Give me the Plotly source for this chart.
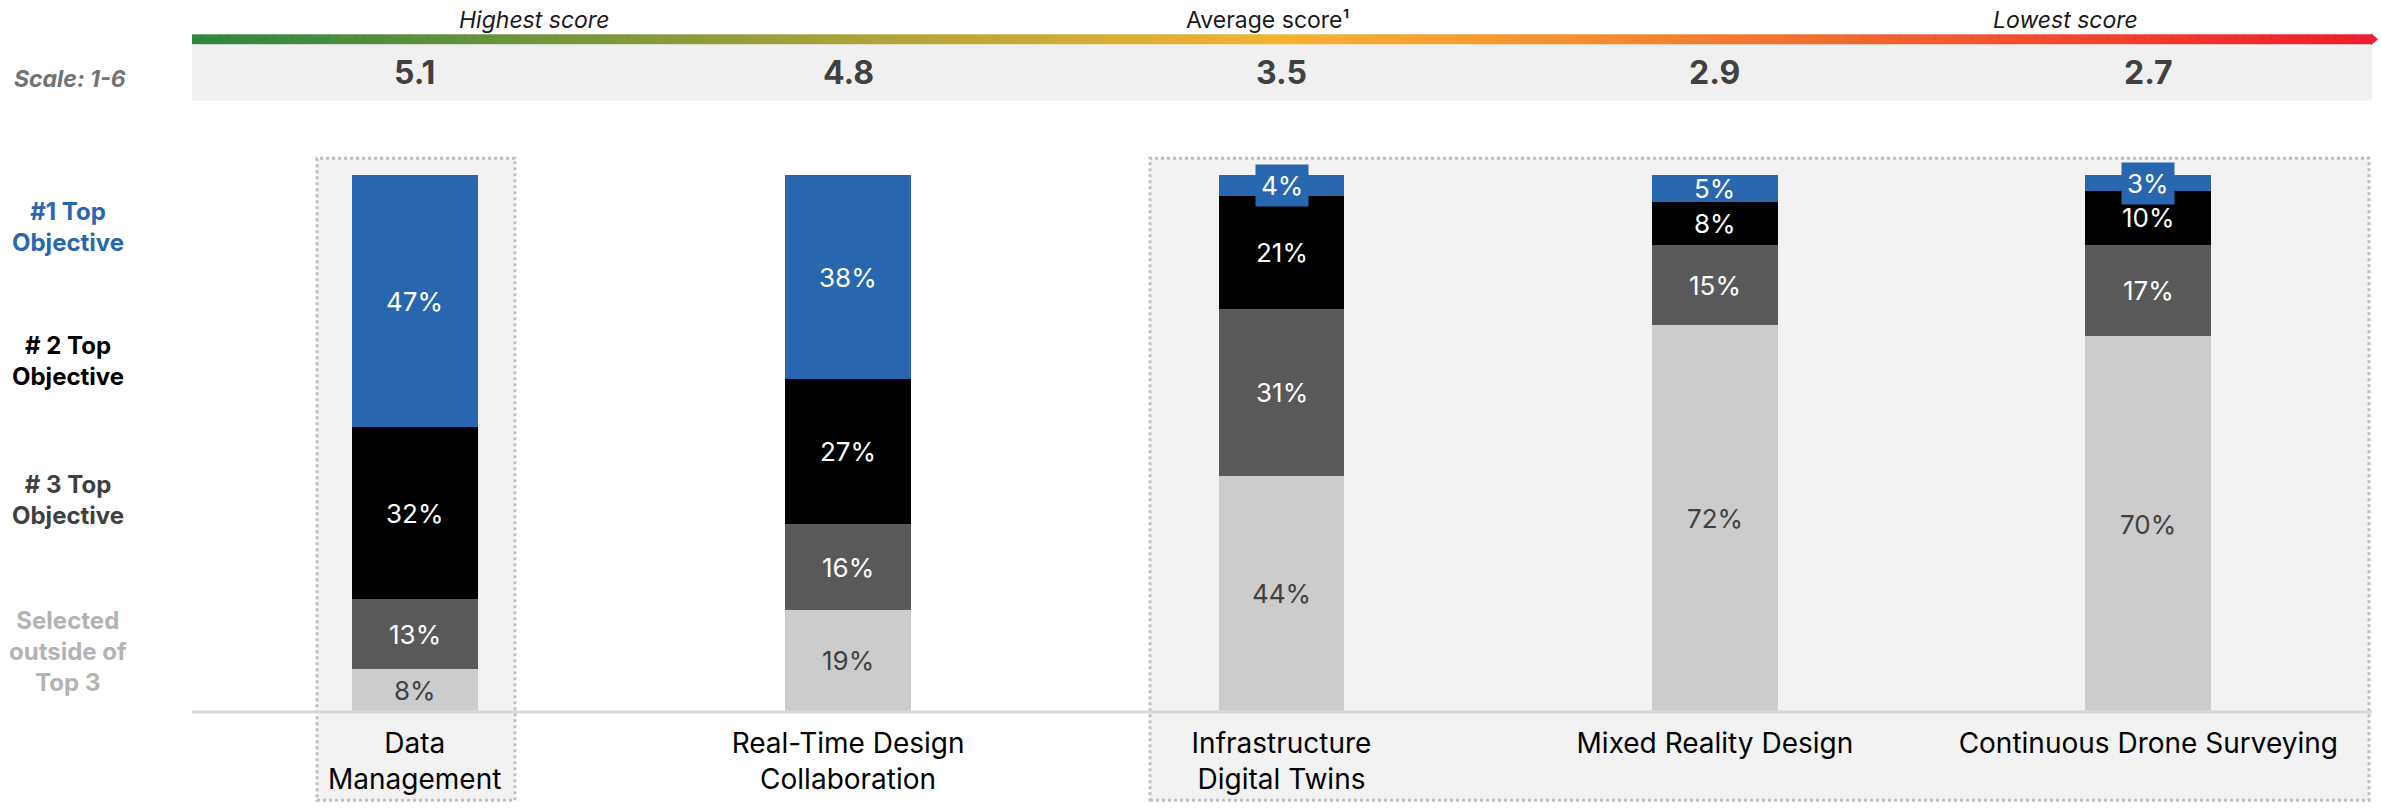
import plotly.graph_objects as go

# ---------------- data ----------------
categories = ["Data<br>Management", "Real-Time Design<br>Collaboration",
              "Infrastructure<br>Digital Twins", "Mixed Reality Design",
              "Continuous Drone Surveying"]
scores = ["5.1", "4.8", "3.5", "2.9", "2.7"]
top1 = [47, 38, 4, 5, 3]
top2 = [32, 27, 21, 8, 10]
top3 = [13, 16, 31, 15, 17]
outside = [8, 19, 44, 72, 70]
series_names = ["Selected outside of Top 3", "# 3 Top Objective", "# 2 Top Objective", "#1 Top Objective"]
row_labels = ["#1 Top<br>Objective", "# 2 Top<br>Objective", "# 3 Top<br>Objective",
              "Selected<br>outside of<br>Top 3"]
scale_label = "Scale: 1-6"
scale_titles = ["Highest score", "Average score¹", "Lowest score"]

# ---------------- style ----------------
W_FIG, H_FIG = 2381, 808
L, R, T, B = 198, 16, 175, 91
PW, PH = W_FIG - L - R, H_FIG - T - B
BLUE, BLACK, DGREY, LGREY = "#2966b0", "#000000", "#595959", "#cccccc"
colors = [LGREY, DGREY, BLACK, BLUE]
text_colors = ["#404040", "#ffffff", "#ffffff", "#ffffff"]
FONT = "Inter, Roboto, sans-serif"


def px(x):
    return (x - L) / PW


def py(y):
    return (T + PH - y) / PH


fig = go.Figure()
stack = [outside, top3, top2, top1]
for name, vals, col in zip(series_names, stack, colors):
    fig.add_trace(go.Bar(x=categories, y=vals, name=name, marker_color=col,
                         marker_line_width=0, width=0.29, hoverinfo="skip"))

annotations = []
# percentage labels
base = [0] * len(categories)
for vals, tc, col in zip(stack, text_colors, colors):
    for i, v in enumerate(vals):
        small = v < 5
        annotations.append(dict(
            x=categories[i], y=base[i] + v / 2, xref="x", yref="y",
            xanchor="center", yanchor="middle",
            text=f"{v}%", showarrow=False,
            font=dict(family=FONT, size=26, color=tc),
            bgcolor=col if small else None, borderpad=5 if small else 0,
        ))
        base[i] += v

# scores
for c, s in zip(categories, scores):
    annotations.append(dict(x=c, y=py(72), xref="x", yref="paper", text=f"<b>{s}</b>",
                            xanchor="center", yanchor="middle",
                            showarrow=False, font=dict(family=FONT, size=32, color="#404040")))

# scale titles
title_x = [534, 1268, 2065]
title_style = ["<i>{}</i>", "{}", "<i>{}</i>"]
for t, xx, st in zip(scale_titles, title_x, title_style):
    annotations.append(dict(x=px(xx), y=py(19), xref="paper", yref="paper", text=st.format(t),
                            xanchor="center", yanchor="middle",
                            showarrow=False, font=dict(family=FONT, size=23, color="#1a1a1a")))

annotations.append(dict(x=px(70), y=py(78), xref="paper", yref="paper",
                        xanchor="center", yanchor="middle",
                        text=f"<b><i>{scale_label}</i></b>", showarrow=False,
                        font=dict(family=FONT, size=23, color="#737373")))

# row labels
row_y = [227, 363, 503, 656]
row_cols = [BLUE, "#000000", "#404040", "#b3b3b3"]
for t, yy, cc in zip(row_labels, row_y, row_cols):
    annotations.append(dict(x=px(68), y=py(yy), xref="paper", yref="paper", text=f"<b>{t}</b>",
                            xanchor="center", yanchor="middle",
                            showarrow=False, align="center",
                            font=dict(family=FONT, size=24, color=cc)))

shapes = []
# dotted highlight boxes
for x0, x1 in [(317, 515), (1150, 2369)]:
    shapes.append(dict(type="rect", xref="paper", yref="paper", x0=px(x0), x1=px(x1),
                       y0=py(806), y1=py(158), fillcolor="#f2f2f2",
                       line=dict(color="#bfbfbf", width=3, dash="dot"), layer="below"))
# grey score band
shapes.append(dict(type="rect", xref="paper", yref="paper", x0=px(192), x1=px(2372),
                   y0=py(100), y1=py(43), fillcolor="#f0f0f0", line_width=0, layer="below"))

# gradient bar
stops = [(0.0, (46, 133, 64)), (0.28, (163, 160, 58)), (0.5, (245, 179, 50)),
         (0.65, (245, 138, 48)), (1.0, (237, 28, 46))]


def grad(t):
    for (t0, c0), (t1, c1) in zip(stops[:-1], stops[1:]):
        if t <= t1:
            f = (t - t0) / (t1 - t0)
            return "rgb(%d,%d,%d)" % tuple(round(a + (b - a) * f) for a, b in zip(c0, c1))
    return "rgb(%d,%d,%d)" % stops[-1][1]


N = 240
gx0, gx1 = 192, 2371
for k in range(N):
    a = gx0 + (gx1 - gx0) * k / N
    b = gx0 + (gx1 - gx0) * (k + 1) / N + 1
    shapes.append(dict(type="rect", xref="paper", yref="paper", x0=px(a), x1=px(b),
                       y0=py(43), y1=py(33), fillcolor=grad((k + 0.5) / N), line_width=0,
                       layer="above"))
shapes.append(dict(type="path", xref="paper", yref="paper",
                   path=f"M {px(2371)},{py(32)} L {px(2378)},{py(38)} L {px(2371)},{py(44)} Z",
                   fillcolor=grad(1.0), line_width=0, layer="above"))

# baseline
shapes.append(dict(type="line", xref="paper", yref="paper", x0=px(192), x1=px(2372),
                   y0=py(717), y1=py(717), line=dict(color="#d9d9d9", width=3), layer="above"))

fig.update_layout(
    width=W_FIG, height=H_FIG, barmode="stack", showlegend=False,
    margin=dict(l=L, r=R, t=T, b=B, pad=0),
    paper_bgcolor="white", plot_bgcolor="rgba(0,0,0,0)",
    annotations=annotations, shapes=shapes,
    xaxis=dict(type="category", range=[-0.5, 4.5], showgrid=False, zeroline=False,
               showline=False, ticks="", ticklabelstandoff=12,
               tickfont=dict(family=FONT, size=28, color="#000000"),
               fixedrange=True),
    yaxis=dict(range=[0, 100], visible=False, fixedrange=True),
)

fig.write_html("out.html", config={"displayModeBar": False})
